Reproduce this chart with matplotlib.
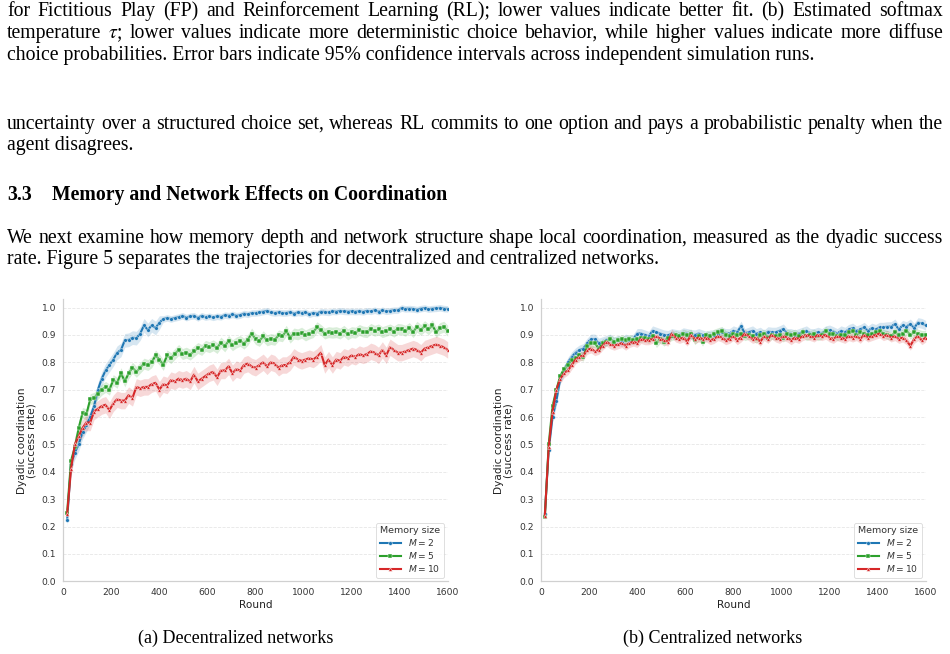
import matplotlib
matplotlib.use("Agg")
import matplotlib.pyplot as plt
import numpy as np

W, H = 950, 654

# ---- data ----
rounds = np.arange(16, 1601, 16)

dec_m2 = [0.225, 0.43, 0.47, 0.50, 0.545, 0.57, 0.60, 0.64, 0.70, 0.74,
          0.77, 0.79, 0.81, 0.835, 0.845, 0.88, 0.882, 0.89, 0.888, 0.905,
          0.935, 0.918, 0.935, 0.925, 0.945, 0.958, 0.962, 0.958, 0.962, 0.965,
          0.97, 0.963, 0.968, 0.97, 0.962, 0.97, 0.965, 0.968, 0.964, 0.968,
          0.966, 0.972, 0.97, 0.975, 0.97, 0.972, 0.978, 0.975, 0.98, 0.98,
          0.982, 0.985, 0.988, 0.982, 0.98, 0.982, 0.98, 0.98, 0.983, 0.978,
          0.982, 0.98, 0.983, 0.975, 0.98, 0.978, 0.985, 0.984, 0.982, 0.986,
          0.985, 0.988, 0.986, 0.985, 0.986, 0.985, 0.986, 0.984, 0.988, 0.986,
          0.99, 0.985, 0.99, 0.986, 0.988, 0.99, 0.99, 0.998, 0.995, 0.996,
          0.995, 0.992, 0.996, 0.998, 0.994, 0.996, 0.997, 0.999, 0.996, 0.995]
dec_m5 = [0.25, 0.44, 0.49, 0.56, 0.615, 0.61, 0.665, 0.67, 0.685, 0.70,
          0.71, 0.70, 0.735, 0.725, 0.76, 0.73, 0.76, 0.78, 0.765, 0.78,
          0.795, 0.79, 0.80, 0.825, 0.81, 0.79, 0.825, 0.815, 0.83, 0.845,
          0.83, 0.835, 0.828, 0.84, 0.852, 0.845, 0.86, 0.855, 0.862, 0.852,
          0.872, 0.858, 0.878, 0.862, 0.872, 0.878, 0.868, 0.882, 0.905, 0.885,
          0.878, 0.895, 0.88, 0.885, 0.882, 0.898, 0.895, 0.915, 0.89, 0.905,
          0.902, 0.908, 0.898, 0.905, 0.91, 0.928, 0.918, 0.905, 0.91, 0.908,
          0.91, 0.905, 0.915, 0.902, 0.91, 0.908, 0.918, 0.912, 0.91, 0.922,
          0.915, 0.92, 0.91, 0.915, 0.92, 0.912, 0.922, 0.92, 0.915, 0.925,
          0.91, 0.93, 0.918, 0.932, 0.92, 0.935, 0.91, 0.925, 0.93, 0.915]
dec_m10 = [0.245, 0.41, 0.50, 0.53, 0.56, 0.58, 0.58, 0.62, 0.63, 0.64,
           0.645, 0.625, 0.65, 0.665, 0.66, 0.66, 0.68, 0.67, 0.71, 0.705,
           0.71, 0.71, 0.72, 0.725, 0.70, 0.72, 0.715, 0.735, 0.73, 0.74,
           0.735, 0.74, 0.73, 0.755, 0.73, 0.74, 0.75, 0.76, 0.765, 0.745,
           0.77, 0.77, 0.785, 0.76, 0.775, 0.77, 0.79, 0.795, 0.785, 0.78,
           0.79, 0.80, 0.785, 0.80, 0.795, 0.78, 0.79, 0.79, 0.80, 0.82,
           0.81, 0.805, 0.81, 0.815, 0.81, 0.82, 0.835, 0.79, 0.81, 0.79,
           0.81, 0.805, 0.82, 0.815, 0.825, 0.82, 0.83, 0.825, 0.83, 0.84,
           0.835, 0.825, 0.845, 0.825, 0.855, 0.845, 0.835, 0.835, 0.84, 0.845,
           0.85, 0.845, 0.835, 0.85, 0.855, 0.86, 0.865, 0.86, 0.855, 0.845]

cen_m2 = [0.245, 0.48, 0.60, 0.66, 0.74, 0.77, 0.80, 0.82, 0.835, 0.845,
          0.85, 0.87, 0.885, 0.885, 0.87, 0.875, 0.88, 0.885, 0.875, 0.88,
          0.875, 0.885, 0.88, 0.885, 0.905, 0.905, 0.90, 0.895, 0.915, 0.91,
          0.905, 0.90, 0.898, 0.905, 0.902, 0.90, 0.908, 0.905, 0.902, 0.90,
          0.905, 0.90, 0.895, 0.90, 0.90, 0.905, 0.91, 0.905, 0.905, 0.915,
          0.91, 0.932, 0.905, 0.91, 0.915, 0.905, 0.91, 0.90, 0.912, 0.91,
          0.91, 0.915, 0.922, 0.905, 0.905, 0.90, 0.905, 0.91, 0.915, 0.905,
          0.905, 0.91, 0.905, 0.915, 0.918, 0.912, 0.905, 0.915, 0.91, 0.92,
          0.925, 0.915, 0.92, 0.928, 0.915, 0.925, 0.92, 0.928, 0.928, 0.93,
          0.93, 0.94, 0.92, 0.935, 0.93, 0.94, 0.925, 0.945, 0.942, 0.935]
cen_m5 = [0.235, 0.50, 0.64, 0.70, 0.75, 0.775, 0.79, 0.81, 0.815, 0.825,
          0.82, 0.86, 0.87, 0.87, 0.85, 0.87, 0.875, 0.885, 0.875, 0.88,
          0.885, 0.88, 0.885, 0.88, 0.885, 0.89, 0.89, 0.885, 0.895, 0.87,
          0.885, 0.875, 0.89, 0.895, 0.90, 0.895, 0.905, 0.90, 0.905, 0.88,
          0.895, 0.875, 0.90, 0.895, 0.905, 0.91, 0.915, 0.90, 0.895, 0.905,
          0.90, 0.905, 0.895, 0.90, 0.895, 0.885, 0.90, 0.905, 0.89, 0.90,
          0.895, 0.90, 0.89, 0.905, 0.90, 0.905, 0.895, 0.91, 0.895, 0.90,
          0.905, 0.895, 0.90, 0.915, 0.905, 0.905, 0.895, 0.90, 0.90, 0.91,
          0.915, 0.90, 0.91, 0.905, 0.90, 0.905, 0.91, 0.915, 0.905, 0.90,
          0.895, 0.91, 0.90, 0.905, 0.915, 0.90, 0.91, 0.905, 0.90, 0.90]
cen_m10 = [0.24, 0.49, 0.62, 0.70, 0.74, 0.76, 0.77, 0.79, 0.81, 0.82,
           0.825, 0.845, 0.85, 0.84, 0.845, 0.86, 0.875, 0.865, 0.86, 0.865,
           0.87, 0.86, 0.87, 0.875, 0.87, 0.885, 0.88, 0.88, 0.885, 0.895,
           0.885, 0.88, 0.875, 0.905, 0.89, 0.885, 0.89, 0.875, 0.90, 0.885,
           0.89, 0.885, 0.89, 0.88, 0.885, 0.895, 0.89, 0.88, 0.885, 0.895,
           0.88, 0.89, 0.905, 0.895, 0.885, 0.89, 0.875, 0.895, 0.885, 0.90,
           0.89, 0.885, 0.895, 0.89, 0.88, 0.89, 0.885, 0.895, 0.90, 0.895,
           0.89, 0.90, 0.895, 0.90, 0.89, 0.885, 0.895, 0.89, 0.885, 0.895,
           0.89, 0.895, 0.885, 0.90, 0.89, 0.895, 0.90, 0.905, 0.895, 0.90,
           0.89, 0.895, 0.885, 0.89, 0.88, 0.86, 0.885, 0.895, 0.88, 0.89]

# 95% CI half widths
dec_ci = [[0.025] * 25 + [0.012] * 75,
          [0.02] * 100,
          [0.03] * 100]
cen_ci = [[0.018] * 100, [0.016] * 100, [0.016] * 100]

labels = ["$M = 2$", "$M = 5$", "$M = 10$"]
colors = ["#1f77b4", "#2ca02c", "#d62728"]
markers = ["o", "s", "^"]
captions = ["(a) Decentralized networks", "(b) Centralized networks"]

fig = plt.figure(figsize=(W / 100, H / 100), dpi=100)


def draw_panel(ax, series, cis):
    for y, ci, c, m, lab in zip(series, cis, colors, markers, labels):
        y = np.array(y)
        ci = np.array(ci)
        ax.fill_between(rounds, y - ci, y + ci, color=c, alpha=0.18, lw=0)
        ax.plot(rounds, y, color=c, lw=1.5, marker=m, ms=2.7,
                mec="white", mew=0.3, label=lab)
    ax.set_xlim(0, 1600)
    ax.set_ylim(0, 1.03)
    ax.set_xticks(range(0, 1601, 200))
    ax.set_yticks(np.arange(0, 1.01, 0.1))
    ax.set_yticklabels([f"{v:.1f}" for v in np.arange(0, 1.01, 0.1)])
    ax.grid(axis="y", ls="--", color="#e6e6e6", lw=0.6)
    ax.set_axisbelow(True)
    for s in ["top", "right"]:
        ax.spines[s].set_visible(False)
    for s in ["left", "bottom"]:
        ax.spines[s].set_color("#d0d0d0")
        ax.spines[s].set_linewidth(0.9)
    ax.tick_params(length=0, labelsize=6.6, colors="#333333", pad=5)
    ax.set_xlabel("Round", fontsize=7.6, color="#222222", labelpad=2)
    ax.set_ylabel("Dyadic coordination\n(success rate)", fontsize=7.6,
                  color="#222222", linespacing=0.95, labelpad=4)
    leg = ax.legend(title="Memory size", loc="lower right", fontsize=6.6,
                    title_fontsize=6.8, frameon=True, handlelength=2.3,
                    borderaxespad=0.4, labelspacing=0.2)
    leg.get_frame().set_edgecolor("#d0d0d0")
    leg.get_frame().set_linewidth(0.6)
    plt.setp(leg.get_texts(), color="#333333")
    leg.get_title().set_color("#333333")


ax1 = fig.add_axes([63.3 / W, 1 - 581.3 / H, 384.4 / W, 282 / H])
draw_panel(ax1, [dec_m2, dec_m5, dec_m10], dec_ci)
ax2 = fig.add_axes([541 / W, 1 - 581.3 / H, 384.7 / W, 282 / H])
draw_panel(ax2, [cen_m2, cen_m5, cen_m10], cen_ci)

# ---- page text ----
serif = "Liberation Serif"
renderer = fig.canvas.get_renderer()


def line(s, x0, base, x1=None, **kw):
    kw.setdefault("family", serif)
    kw.setdefault("fontsize", 14.2)
    kw.setdefault("math_fontfamily", "stix")
    if x1 is None:
        fig.text(x0 / W, 1 - base / H, s, va="baseline", **kw)
        return
    words = s.split()
    ts = [fig.text(0, 1 - base / H, w, va="baseline", **kw) for w in words]
    ws = [t.get_window_extent(renderer).width for t in ts]
    gap = (x1 - x0 - sum(ws)) / (len(ws) - 1)
    x = x0
    for t, w in zip(ts, ws):
        t.set_x(x / W)
        x += w + gap


line("for Fictitious Play (FP) and Reinforcement Learning (RL); lower values "
     "indicate better fit.  (b) Estimated softmax", 7, 16, 943)
line(r"temperature $\tau$; lower values indicate more deterministic choice "
     "behavior, while higher values indicate more diffuse", 7, 38, 943)
line("choice probabilities. Error bars indicate 95% confidence intervals "
     "across independent simulation runs.", 7, 60)
line("uncertainty over a structured choice set, whereas RL commits to one "
     "option and pays a probabilistic penalty when the", 7, 129, 943)
line("agent disagrees.", 7, 150)
line("3.3", 7, 200, fontweight="bold")
line("Memory and Network Effects on Coordination", 52, 200, fontweight="bold")
line("We next examine how memory depth and network structure shape local "
     "coordination, measured as the dyadic success", 7, 243, 943)
line("rate. Figure 5 separates the trajectories for decentralized and "
     "centralized networks.", 7, 264)

for cx, cap in zip([236, 713], captions):
    fig.text(cx / W, 1 - 643 / H, cap, ha="center", va="baseline",
             family=serif, fontsize=13)

fig.savefig("out.png", dpi=100)
